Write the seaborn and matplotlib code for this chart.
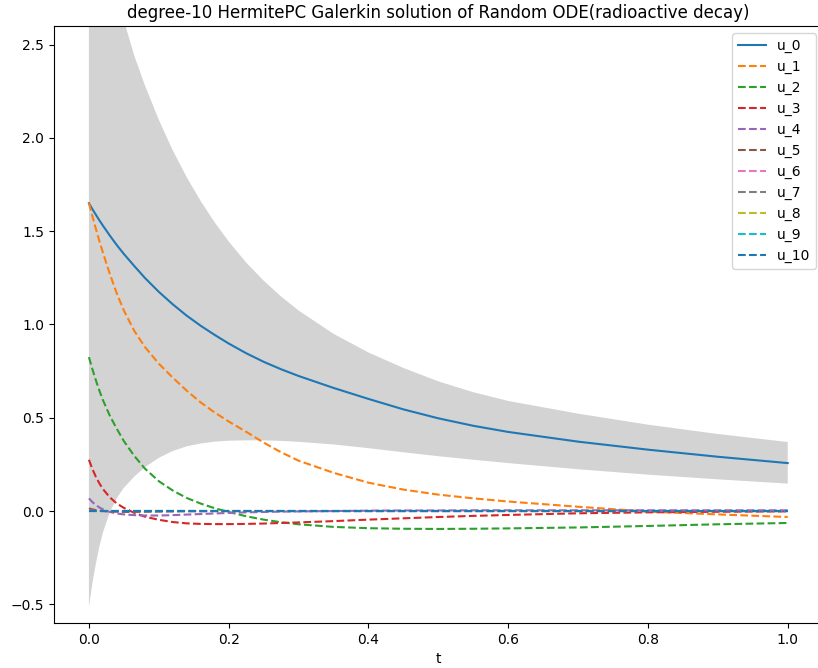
import matplotlib
matplotlib.use("Agg")
import matplotlib.pyplot as plt
import seaborn as sns

t = [0, 0.005, 0.01, 0.015, 0.02, 0.03, 0.04, 0.05, 0.065, 0.08,
     0.1, 0.12, 0.14, 0.16, 0.18, 0.2, 0.225, 0.25, 0.275, 0.3,
     0.35, 0.4, 0.45, 0.5, 0.55, 0.6, 0.7, 0.8, 0.9, 1.0]

u_0 = [1.65, 1.618, 1.588, 1.558, 1.530, 1.476, 1.425, 1.378, 1.313, 1.250,
       1.175, 1.108, 1.047, 0.993, 0.944, 0.898, 0.846, 0.800, 0.760, 0.724,
       0.660, 0.601, 0.545, 0.497, 0.457, 0.424, 0.372, 0.329, 0.291, 0.257]
u_1 = [1.65, 1.58, 1.512, 1.447, 1.385, 1.270, 1.165, 1.075, 0.965, 0.880,
       0.790, 0.715, 0.645, 0.582, 0.528, 0.480, 0.425, 0.367, 0.315, 0.270,
       0.205, 0.152, 0.115, 0.088, 0.068, 0.051, 0.023, -0.003, -0.018, -0.032]
u_2 = [0.825, 0.76, 0.70, 0.645, 0.595, 0.51, 0.44, 0.375, 0.295, 0.228,
       0.16, 0.11, 0.07, 0.04, 0.015, -0.005, -0.028, -0.046, -0.06, -0.071,
       -0.085, -0.092, -0.095, -0.096, -0.095, -0.093, -0.088, -0.080, -0.071, -0.064]
u_3 = [0.275, 0.225, 0.183, 0.148, 0.118, 0.073, 0.040, 0.017, -0.01, -0.03,
       -0.047, -0.059, -0.066, -0.069, -0.070, -0.070, -0.069, -0.067, -0.064, -0.061,
       -0.054, -0.046, -0.039, -0.032, -0.026, -0.021, -0.012, -0.007, -0.004, -0.002]
u_4 = [0.068, 0.048, 0.032, 0.019, 0.009, -0.005, -0.013, -0.018, -0.022, -0.024,
       -0.024, -0.022, -0.019, -0.016, -0.013, -0.010, -0.007, -0.005, -0.003, -0.002,
       0.0, 0.002, 0.003, 0.003, 0.004, 0.004, 0.004, 0.004, 0.004, 0.004]
u_5 = [0.014, 0.009, 0.005, 0.002, 0.0, -0.003, -0.004, -0.005, -0.005, -0.004,
       -0.003, -0.002, -0.001, -0.001, 0.0, 0.0, 0.0, 0.0, 0.0, 0.0,
       0.0, 0.0, 0.0, 0.0, 0.0, 0.0, 0.0, 0.0, 0.0, 0.0]
u_6 = [0.002, 0.001] + [0.0] * 28
u_7 = [0.0] * 30
u_8 = [0.0] * 30
u_9 = [0.0] * 30
u_10 = [0.0] * 30

upper = [3.81, 3.62, 3.46, 3.31, 3.175, 2.95, 2.78, 2.63, 2.44, 2.283,
         2.097, 1.933, 1.789, 1.661, 1.547, 1.445, 1.332, 1.235, 1.15, 1.075,
         0.95, 0.85, 0.767, 0.695, 0.637, 0.59, 0.522, 0.463, 0.413, 0.37]
lower = [-0.514, -0.385, -0.28, -0.19, -0.115, -0.005, 0.07, 0.125, 0.185, 0.235,
         0.285, 0.322, 0.347, 0.362, 0.372, 0.377, 0.379, 0.379, 0.376, 0.371,
         0.357, 0.337, 0.315, 0.294, 0.275, 0.257, 0.224, 0.195, 0.170, 0.147]

series = [u_0, u_1, u_2, u_3, u_4, u_5, u_6, u_7, u_8, u_9, u_10]

fig = plt.figure(figsize=(8.18, 6.68), dpi=100)
ax = fig.add_axes([0.066, 0.0674, 0.9397, 0.8937])

# +/- band around the mean
ax.fill_between(t, lower, upper, color='lightgrey', linewidth=0)
for i, u in enumerate(series):
    sns.lineplot(x=t, y=u, ax=ax, color=f'C{i % 10}',
                 linestyle='-' if i == 0 else '--', label=f'u_{i}')

ax.set_xlim(-0.05, 1.05)
ax.set_ylim(-0.6, 2.6)
ax.set_xlabel('t')
ax.set_title('degree-10 HermitePC Galerkin solution of Random ODE(radioactive decay)')
ax.legend(loc='upper right')

fig.savefig('out.png')
